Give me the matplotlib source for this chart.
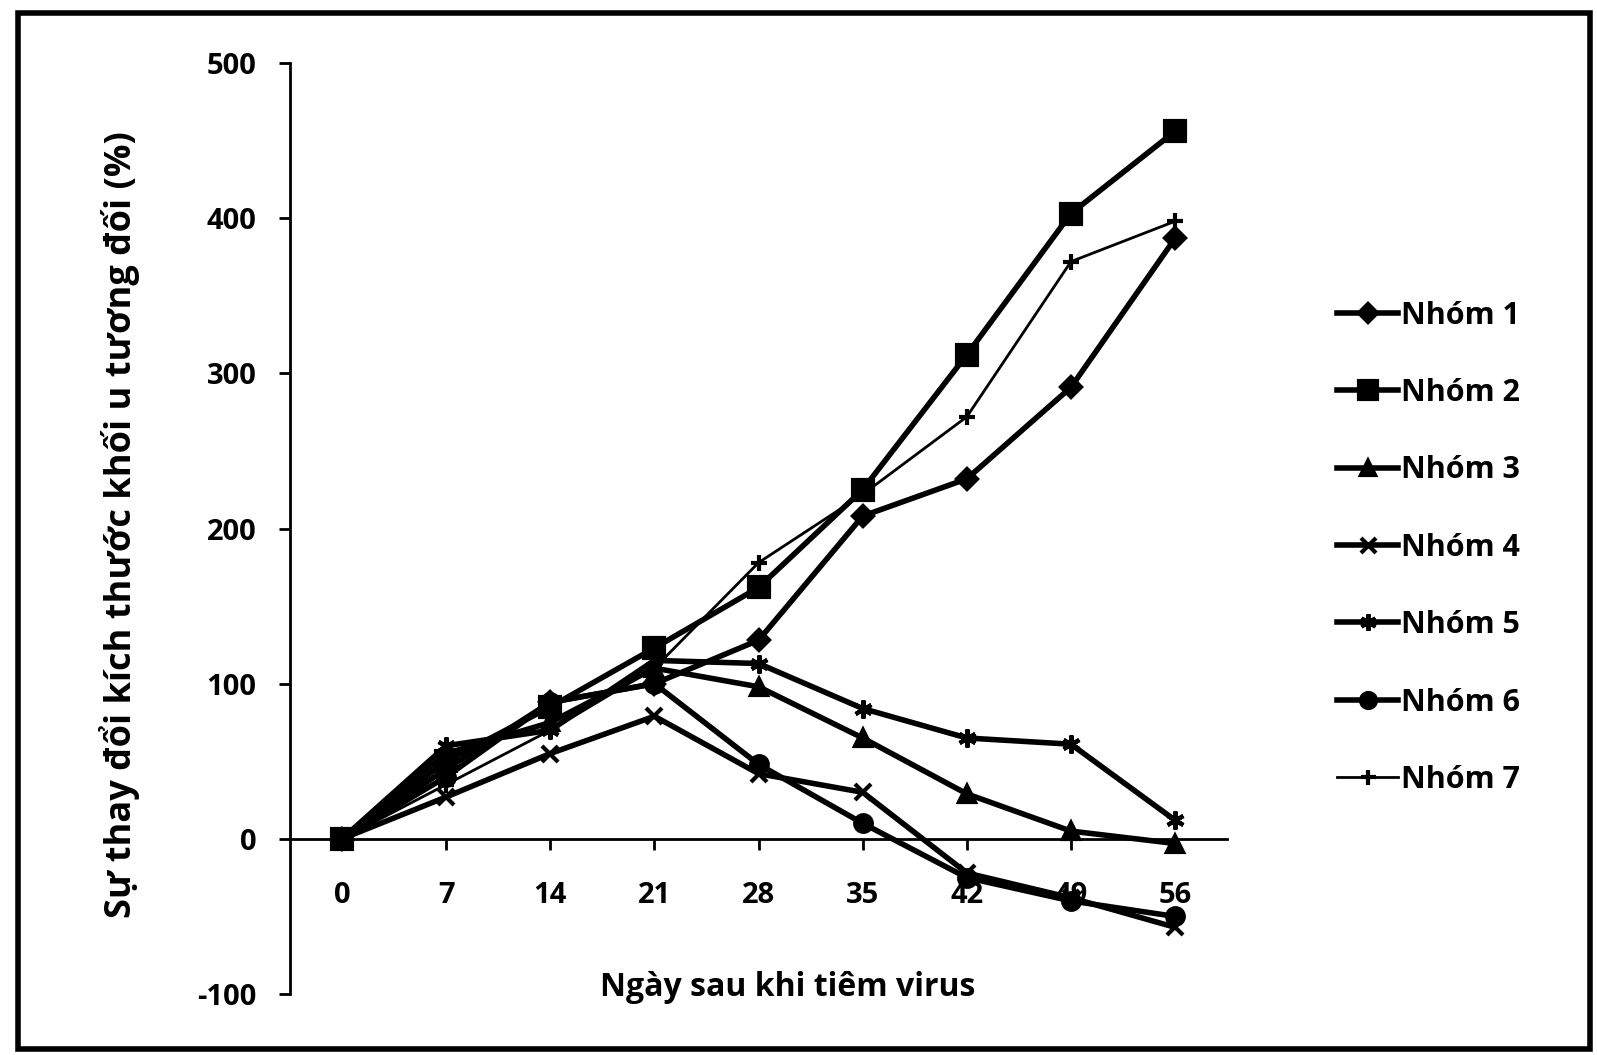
import matplotlib.pyplot as plt
from matplotlib.patches import Rectangle

plt.rcParams['font.family'] = ['Open Sans', 'DejaVu Sans']
plt.rcParams['font.weight'] = 'bold'
plt.rcParams['axes.unicode_minus'] = False

days = ['0', '7', '14', '21', '28', '35', '42', '49', '56']
groups = ['Nhóm 1', 'Nhóm 2', 'Nhóm 3', 'Nhóm 4', 'Nhóm 5', 'Nhóm 6', 'Nhóm 7']

nhom1 = [0, 45, 88, 100, 128, 208, 232, 291, 387]
nhom2 = [0, 50, 85, 123, 162, 225, 312, 403, 456]
nhom3 = [0, 55, 75, 110, 98, 65, 29, 5, -3]
nhom4 = [0, 27, 55, 79, 42, 30, -22, -38, -57]
nhom5 = [0, 60, 70, 115, 113, 84, 65, 61, 12]
nhom6 = [0, 40, 88, 100, 48, 10, -25, -40, -50]
nhom7 = [0, 35, 70, 110, 178, 222, 272, 372, 398]

series = [nhom1, nhom2, nhom3, nhom4, nhom5, nhom6, nhom7]
markers = ['D', 's', '^', 'x', (6, 2, 0), 'o', '+']
msizes = [10, 15, 11, 12, 13, 12, 12]
widths = [4, 4, 4, 4, 4, 4, 2]

fig = plt.figure(figsize=(15.97, 10.55), dpi=100)
ax = fig.add_axes([0.1816, 0.0578, 0.5868, 0.8825])

x = list(range(len(days)))
for vals, name, m, ms, lw in zip(series, groups, markers, msizes, widths):
    ax.plot(x, vals, color='black', lw=lw, marker=m, ms=ms, mew=3,
            label=name)

ax.set_xlim(-0.5, len(days) - 0.5)
ax.set_ylim(-100, 500)
ax.set_yticks([-100, 0, 100, 200, 300, 400, 500])
ax.set_xticks(x)
ax.set_xticklabels(days)

ax.spines['top'].set_visible(False)
ax.spines['right'].set_visible(False)
ax.spines['bottom'].set_position(('data', 0))
ax.spines['left'].set_linewidth(2)
ax.spines['bottom'].set_linewidth(2)
ax.tick_params(axis='both', direction='out', length=8, width=2, labelsize=21)
ax.tick_params(axis='x', pad=22)
ax.tick_params(axis='y', pad=16)

fig.text(0.493, 0.064, 'Ngày sau khi tiêm virus', ha='center', va='center',
         fontsize=23, fontweight='bold')
fig.text(0.075, 0.503, 'Sự thay đổi kích thước khối u tương đối (%)',
         ha='center', va='center', rotation=90, fontsize=26, fontweight='bold')

leg = fig.legend(loc='upper left', bbox_to_anchor=(0.82, 0.741),
                 frameon=False, fontsize=22, handlelength=2.0,
                 handletextpad=0.1, labelspacing=1.55, markerscale=0.9)

fig.add_artist(Rectangle((0.0113, 0.006), 0.9845, 0.982, transform=fig.transFigure,
                         fill=False, ec='black', lw=4))

fig.savefig('out.png', dpi=100)
